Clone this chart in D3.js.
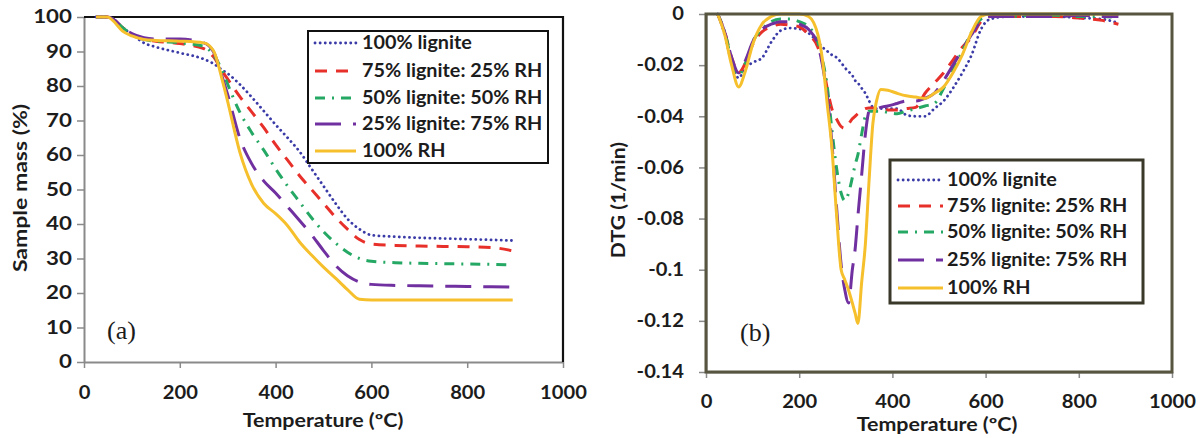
<!DOCTYPE html>
<html lang="en">
<head>
<meta charset="UTF-8" />
<title>TGA / DTG lignite - rice husk blends</title>
<script src="https://d3js.org/d3.v7.min.js"></script>
<style>
  body { margin: 0; background: #fff; }
  svg text { font-family: Lato, "Open Sans", sans-serif; font-weight: 700; fill: #1c1c1c; }
  svg text.tag { font-family: "Liberation Serif", "DejaVu Serif", serif; font-weight: 400; }
</style>
</head>
<body>
<svg width="1203" height="438"></svg>
<script>
const seriesNames = ["100% lignite", "75% lignite: 25% RH", "50% lignite: 50% RH", "25% lignite: 75% RH", "100% RH"];

// (a) sample mass (%) against temperature (ºC)
const tgaTemp    = [25, 50, 60, 80, 100, 125, 150, 200, 250, 270, 290, 300, 325, 350, 375, 400, 425, 450, 475, 500, 525, 550, 575, 600, 650, 700, 750, 800, 850, 895];
const tgaLignite = [100, 100, 99.5, 97, 95, 92.5, 91.3, 89.6, 87.8, 86.5, 84.5, 83.6, 80.5, 76.8, 72.8, 68.8, 65, 61, 56, 51, 46, 41.5, 38.5, 36.8, 36.3, 36, 35.8, 35.6, 35.4, 35.2];
const tgaBlend75 = [100, 100, 99.5, 97, 95, 93.5, 93, 92.3, 90.8, 88.5, 84, 82, 77, 72.5, 68, 63, 58.5, 54, 50, 46, 42, 38.5, 35.5, 34.2, 33.8, 33.6, 33.5, 33.4, 33.2, 32.2];
const tgaBlend50 = [100, 100, 99.5, 97, 95, 93.5, 93, 92.5, 91.5, 89, 84, 80.5, 72.5, 66.5, 61.5, 56, 51, 46.4, 41.8, 37.8, 34.5, 31.8, 30, 29.2, 28.8, 28.6, 28.5, 28.4, 28.3, 28.1];
const tgaBlend25 = [100, 100, 99.5, 97, 95.2, 94, 93.6, 93.6, 92.5, 90, 82, 77.5, 65, 57.5, 52.5, 49, 45, 41, 36.9, 32.3, 28, 25, 23.2, 22.5, 22.2, 22.1, 22, 21.9, 21.8, 21.7];
const tgaRH      = [100, 100, 99, 96, 94.5, 93.5, 93.2, 93, 92.5, 90.3, 81, 75.5, 61, 51.5, 46, 43, 39.5, 34.8, 31, 27.5, 24.3, 21, 18.2, 18, 18, 18, 18, 18, 18, 18];

// (b) DTG (1/min) against temperature (ºC)
const dtgTemp    = [25, 40, 55, 70, 85, 100, 120, 140, 160, 180, 200, 220, 240, 250, 260, 270, 280, 290, 298, 306, 314, 320, 326, 334, 342, 350, 358, 366, 375, 390, 410, 430, 450, 470, 490, 510, 530, 550, 570, 590, 610, 650, 700, 750, 800, 850, 885];
const dtgLignite = [0, -0.008, -0.019, -0.025, -0.021, -0.019, -0.0172, -0.011, -0.0065, -0.0055, -0.0058, -0.0075, -0.011, -0.013, -0.0145, -0.016, -0.017, -0.019, -0.021, -0.0225, -0.024, -0.026, -0.027, -0.029, -0.031, -0.034, -0.0365, -0.037, -0.037, -0.037, -0.037, -0.0395, -0.04, -0.04, -0.037, -0.034, -0.029, -0.023, -0.016, -0.006, -0.002, -0.001, -0.001, -0.001, -0.0015, -0.002, -0.0035];
const dtgBlend75 = [0, -0.007, -0.017, -0.023, -0.019, -0.012, -0.007, -0.005, -0.004, -0.0043, -0.005, -0.008, -0.013, -0.019, -0.029, -0.037, -0.041, -0.044, -0.0447, -0.043, -0.041, -0.04, -0.039, -0.038, -0.037, -0.0368, -0.0368, -0.037, -0.037, -0.0375, -0.0375, -0.037, -0.0365, -0.031, -0.027, -0.023, -0.018, -0.013, -0.009, -0.003, -0.001, -0.001, -0.001, -0.001, -0.0016, -0.0025, -0.004];
const dtgBlend50 = [0, -0.007, -0.018, -0.024, -0.019, -0.011, -0.006, -0.003, -0.002, -0.002, -0.003, -0.005, -0.011, -0.018, -0.028, -0.045, -0.06, -0.07, -0.073, -0.07, -0.064, -0.059, -0.055, -0.047, -0.04, -0.038, -0.038, -0.038, -0.038, -0.0385, -0.039, -0.038, -0.037, -0.036, -0.035, -0.029, -0.022, -0.0145, -0.007, -0.002, -0.001, -0.001, -0.0005, -0.0005, -0.001, -0.001, -0.0015];
const dtgBlend25 = [0, -0.007, -0.017, -0.023, -0.018, -0.011, -0.006, -0.004, -0.003, -0.003, -0.004, -0.006, -0.012, -0.02, -0.032, -0.05, -0.075, -0.098, -0.108, -0.113, -0.1, -0.092, -0.079, -0.063, -0.047, -0.038, -0.037, -0.037, -0.0365, -0.036, -0.035, -0.034, -0.034, -0.033, -0.031, -0.026, -0.02, -0.014, -0.008, -0.003, -0.001, -0.001, -0.001, -0.001, -0.0005, -0.001, -0.001];
const dtgRH      = [0, -0.008, -0.02, -0.0285, -0.022, -0.012, -0.004, -0.001, 0, 0, 0, -0.001, -0.008, -0.018, -0.035, -0.052, -0.078, -0.1, -0.104, -0.108, -0.113, -0.117, -0.121, -0.105, -0.09, -0.065, -0.043, -0.034, -0.0295, -0.0298, -0.031, -0.032, -0.0325, -0.033, -0.031, -0.0285, -0.023, -0.016, -0.007, -0.001, 0, 0, 0, 0, 0, 0, 0];

const tempTicks = [0, 200, 400, 600, 800, 1000];
const massTicks = [0, 10, 20, 30, 40, 50, 60, 70, 80, 90, 100];
const dtgTicks  = [0, -0.02, -0.04, -0.06, -0.08, -0.1, -0.12, -0.14];

// line looks, same order as the series
const looks = [
  { color: "#3b3ba8", dash: "0.1,5", cap: "round", w: 2.8 },
  { color: "#e8302a", dash: "12,9", cap: "butt", w: 3 },
  { color: "#26a865", dash: "10,7,2,7", cap: "butt", w: 3 },
  { color: "#7030a0", dash: "26,12", cap: "butt", w: 3 },
  { color: "#f6c02c", dash: null, cap: "butt", w: 3 }
];

const svg = d3.select("svg");
svg.append("rect").attr("width", 1203).attr("height", 438).attr("fill", "#fff");

// the original figure is stretched sideways, so text gets a horizontal scale
function label(g, x, y, str, size, sx, anchor, rot) {
  return g.append("text")
    .attr("transform", `translate(${x},${y})` + (rot ? ` rotate(${rot})` : "") + ` scale(${sx},1)`)
    .attr("font-size", size)
    .attr("text-anchor", anchor || "start")
    .text(str);
}

function styleAxis(g, color) {
  g.attr("font-size", 18);
  g.select(".domain").attr("stroke", color).attr("stroke-width", 2);
  g.selectAll(".tick line").attr("stroke", color).attr("stroke-width", 1.5);
}

function drawLines(g, x, y, temps, series) {
  const line = d3.line().x(d => x(d[0])).y(d => y(d[1])).curve(d3.curveMonotoneX);
  series.forEach((vals, i) => {
    const lk = looks[i];
    g.append("path")
      .datum(temps.map((t, j) => [t, vals[j]]))
      .attr("fill", "none")
      .attr("stroke", lk.color)
      .attr("stroke-width", lk.w)
      .attr("stroke-linecap", lk.cap)
      .attr("stroke-linejoin", "round")
      .attr("stroke-dasharray", lk.dash)
      .attr("d", line);
  });
}

function drawLegend(g, box, rowY, symX, textX, frame, frameW) {
  g.append("rect")
    .attr("x", box[0]).attr("y", box[1]).attr("width", box[2]).attr("height", box[3])
    .attr("fill", "#fff").attr("stroke", frame).attr("stroke-width", frameW);
  seriesNames.forEach((name, i) => {
    const lk = looks[i];
    const yy = box[1] + rowY[i];
    g.append("line")
      .attr("x1", symX[0]).attr("x2", symX[1]).attr("y1", yy).attr("y2", yy)
      .attr("stroke", lk.color).attr("stroke-width", lk.w)
      .attr("stroke-linecap", lk.cap).attr("stroke-dasharray", lk.dash);
    label(g, textX, yy + 6, name, 18, 1.1);
  });
}

// ---------- (a) ----------
const xA = d3.scaleLinear().domain([0, 1000]).range([84, 563]);
const yA = d3.scaleLinear().domain([0, 100]).range([362, 17]);
const gA = svg.append("g");

gA.append("g").attr("transform", "translate(84,0)")
  .call(d3.axisLeft(yA).tickValues(massTicks).tickSize(7).tickSizeOuter(0))
  .call(g => styleAxis(g, "#8a8a8a"))
  .call(g => g.selectAll("text").attr("x", null).attr("transform", "translate(-12,0) scale(1.24,1)"));

gA.append("g").attr("transform", "translate(0,362)")
  .call(d3.axisBottom(xA).tickValues(tempTicks).tickSize(6).tickSizeOuter(0).tickFormat(d3.format("d")))
  .call(g => styleAxis(g, "#8a8a8a"))
  .call(g => g.selectAll("text").attr("y", null).attr("transform", "translate(0,24) scale(1.12,1)"));

gA.append("path")
  .attr("d", `M${xA(0)},${yA(100)}H${xA(1000)}V${yA(0)}`)
  .attr("fill", "none").attr("stroke", "#111").attr("stroke-width", 2.2);

drawLines(gA, xA, yA, tgaTemp, [tgaLignite, tgaBlend75, tgaBlend50, tgaBlend25, tgaRH]);
drawLegend(gA, [308, 31, 240, 132], [12, 40, 67, 93, 120], [315, 356], 362, "#111", 2);

label(gA, 323, 427, "Temperature (ºC)", 18, 1.19, "middle");
label(gA, 27, 188, "Sample mass (%)", 19.5, 1.18, "middle", -90);
gA.append("text").attr("class", "tag").attr("x", 107).attr("y", 339).attr("font-size", 26).text("(a)");

// ---------- (b) ----------
const xB = d3.scaleLinear().domain([0, 1000]).range([706, 1172]);
const yB = d3.scaleLinear().domain([-0.14, 0]).range([372, 14]);
const gB = svg.append("g");

gB.append("g").attr("transform", "translate(706,0)")
  .call(d3.axisLeft(yB).tickValues(dtgTicks).tickSize(7).tickSizeOuter(0)
    .tickFormat(d => d === 0 ? "0" : String(+d.toFixed(2))))
  .call(g => styleAxis(g, "#8a8a8a"))
  .call(g => g.selectAll("text").attr("x", null).attr("transform", "translate(-22,0) scale(1.12,1)"));

gB.append("g").attr("transform", "translate(0,372)")
  .call(d3.axisBottom(xB).tickValues(tempTicks).tickSize(6).tickSizeOuter(0).tickFormat(d3.format("d")))
  .call(g => styleAxis(g, "#8a8a8a"))
  .call(g => g.selectAll("text").attr("y", null).attr("transform", "translate(0,23) scale(1.12,1)"));

drawLines(gB, xB, yB, dtgTemp, [dtgLignite, dtgBlend75, dtgBlend50, dtgBlend25, dtgRH]);

gB.append("rect")
  .attr("x", xB(0)).attr("y", yB(0)).attr("width", xB(1000) - xB(0)).attr("height", yB(-0.14) - yB(0))
  .attr("fill", "none").attr("stroke", "#57553f").attr("stroke-width", 3);

drawLegend(gB, [890, 160, 253, 143], [20, 46, 72, 100, 128], [898, 943], 947, "#3a3828", 3);

label(gB, 937, 431, "Temperature (ºC)", 18, 1.19, "middle");
label(gB, 625, 200, "DTG (1/min)", 18, 1.18, "middle", -90);
gB.append("text").attr("class", "tag").attr("x", 740).attr("y", 341).attr("font-size", 26).text("(b)");
</script>
</body>
</html>
